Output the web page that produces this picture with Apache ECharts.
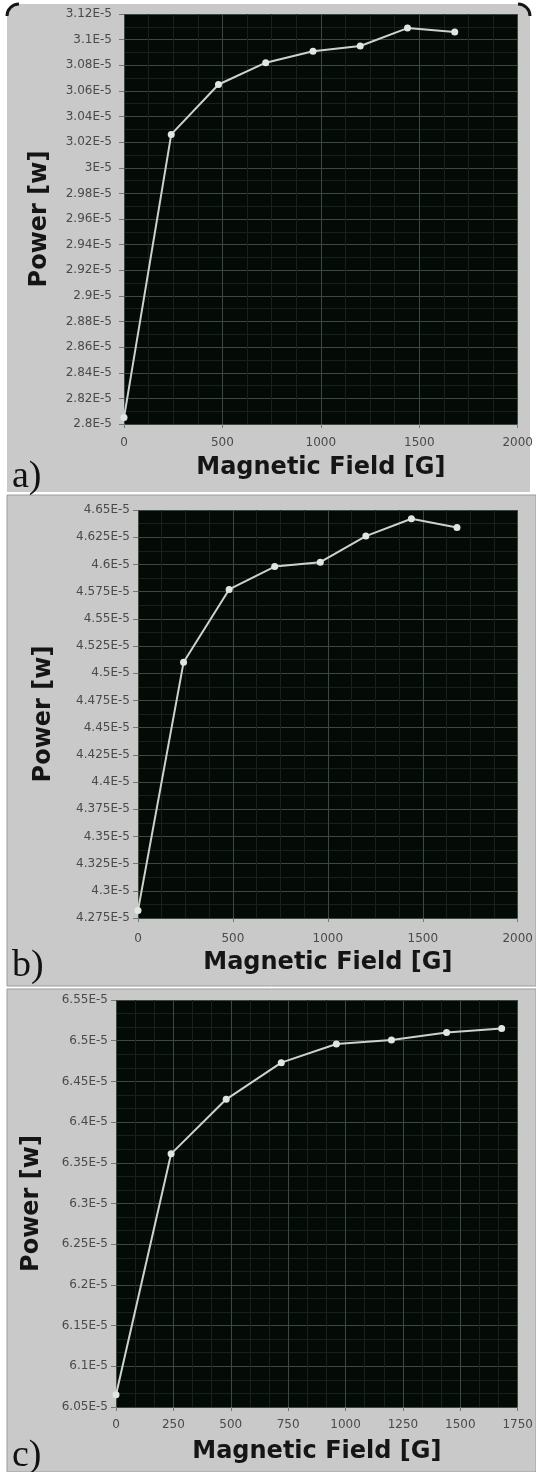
<!DOCTYPE html>
<html>
<head>
<meta charset="utf-8">
<title>Power vs Magnetic Field</title>
<script src="https://cdn.jsdelivr.net/npm/echarts@6/dist/echarts.min.js"></script>
<style>
  html, body { margin: 0; padding: 0; background: #fff; }
  #chart { width: 536px; height: 1472px; }
</style>
</head>
<body>
<div id="chart"></div>
<script>
// magnetic field steps (G), same for the three runs
const fieldG = [0, 240, 480, 720, 960, 1200, 1440, 1680]
// measured power, in units of 1E-5 W
const powerA = [2.805, 3.026, 3.065, 3.082, 3.091, 3.095, 3.109, 3.106]
const powerB = [4.282, 4.510, 4.577, 4.598, 4.602, 4.626, 4.642, 4.634]
const powerC = [6.065, 6.361, 6.428, 6.473, 6.496, 6.501, 6.510, 6.515]
// y ranges [min, max, step] (1E-5 W)
const yRangeA = [2.8, 3.12, 0.02]
const yRangeB = [4.275, 4.65, 0.025]
const yRangeC = [6.05, 6.55, 0.05]
// x ranges [min, max, step] (G)
const xRangeA = [0, 2000, 500]
const xRangeB = [0, 2000, 500]
const xRangeC = [0, 1750, 250]
const panelLabels = ['a)', 'b)', 'c)']

const chart = echarts.init(document.getElementById('chart'))

// plot boxes, one per panel
const grids = [
  { left: 124, top: 14, width: 394, height: 410 },
  { left: 138, top: 510, width: 385, height: 408 },
  { left: 116, top: 1000, width: 407, height: 407 }
]

const labelFont = { color: '#4a4a4a', fontSize: 12, fontFamily: 'DejaVu Sans' }
const nameFont = { color: '#151515', fontSize: 24, fontWeight: 'bold', fontFamily: 'DejaVu Sans' }
const majorLine = { show: true, lineStyle: { color: '#3b4a3f', width: 1 } }
const minorLine = { show: true, lineStyle: { color: '#17221a', width: 1 } }

const makeX = (i, range, minor, labelMargin, nameGap) => ({
  gridIndex: i,
  type: 'value',
  min: range[0],
  max: range[1],
  interval: range[2],
  name: 'Magnetic Field [G]',
  nameLocation: 'middle',
  nameGap: nameGap,
  nameTextStyle: nameFont,
  axisLine: { show: false },
  axisTick: { show: true, length: 4, lineStyle: { color: '#777' } },
  axisLabel: Object.assign({
    margin: labelMargin,
    hideOverlap: false,
    formatter: (v) => String(v)
  }, labelFont),
  splitLine: majorLine,
  minorTick: { show: false, splitNumber: minor },
  minorSplitLine: minorLine
})

const makeY = (i, range, minor, labelMargin, nameGap) => ({
  gridIndex: i,
  type: 'value',
  min: range[0],
  max: range[1],
  interval: range[2],
  name: 'Power [w]',
  nameLocation: 'middle',
  nameGap: nameGap,
  nameTextStyle: nameFont,
  axisLine: { show: false },
  axisTick: { show: true, length: 5, lineStyle: { color: '#777' } },
  axisLabel: Object.assign({
    margin: labelMargin,
    hideOverlap: false,
    formatter: (v) => parseFloat(v.toFixed(3)) + 'E-5'
  }, labelFont),
  splitLine: majorLine,
  minorTick: { show: false, splitNumber: minor },
  minorSplitLine: minorLine
})

const makeSeries = (i, values) => ({
  type: 'line',
  xAxisIndex: i,
  yAxisIndex: i,
  data: fieldG.map((f, k) => [f, values[k]]),
  symbol: 'circle',
  symbolSize: 7,
  lineStyle: { color: '#cdd2cd', width: 2 },
  itemStyle: { color: '#e2e6e2' },
  animation: false
})

// grey panel backgrounds + a) b) c) labels
const panels = [
  { y: 4, h: 488 },
  { y: 495, h: 491 },
  { y: 989, h: 483 }
]
const labelBase = [490, 979, 1469]
const graphic = []
panels.forEach((p, i) => {
  graphic.push({
    type: 'rect', z: -10, silent: true,
    shape: { x: 7, y: p.y, width: i === 0 ? 523 : 529, height: p.h, r: i === 0 ? [12, 12, 0, 0] : 0 },
    style: { fill: '#c9c9c9', stroke: i === 0 ? null : '#9c9c9c', lineWidth: 1 }
  })
  graphic.push({
    type: 'text', z: 10, silent: true,
    x: 12, y: labelBase[i] - 13,
    style: { text: panelLabels[i], fontFamily: 'Liberation Serif', fontSize: 38, fill: '#111', verticalAlign: 'middle' }
  })
})
// dark rounded corners on top of the first panel
graphic.push({
  type: 'arc', z: 5, silent: true,
  shape: { cx: 19, cy: 16, r: 12, startAngle: Math.PI, endAngle: Math.PI * 1.5 },
  style: { stroke: '#151515', lineWidth: 3, fill: null }
})
graphic.push({
  type: 'arc', z: 5, silent: true,
  shape: { cx: 518, cy: 16, r: 12, startAngle: Math.PI * 1.5, endAngle: Math.PI * 2 },
  style: { stroke: '#151515', lineWidth: 3, fill: null }
})

const option = {
  backgroundColor: '#ffffff',
  animation: false,
  graphic: graphic,
  grid: grids.map((g) => Object.assign({
    show: true,
    backgroundColor: '#040b06',
    borderWidth: 0,
    containLabel: false
  }, g)),
  xAxis: [
    makeX(0, xRangeA, 4, 13, 32),
    makeX(1, xRangeB, 4, 15, 33),
    makeX(2, xRangeC, 3, 12, 33)
  ],
  yAxis: [
    makeY(0, yRangeA, 2, 12, 72),
    makeY(1, yRangeB, 2, 8, 82),
    makeY(2, yRangeC, 3, 8, 72)
  ],
  series: [
    makeSeries(0, powerA),
    makeSeries(1, powerB),
    makeSeries(2, powerC)
  ]
}

chart.setOption(option)
</script>
</body>
</html>
